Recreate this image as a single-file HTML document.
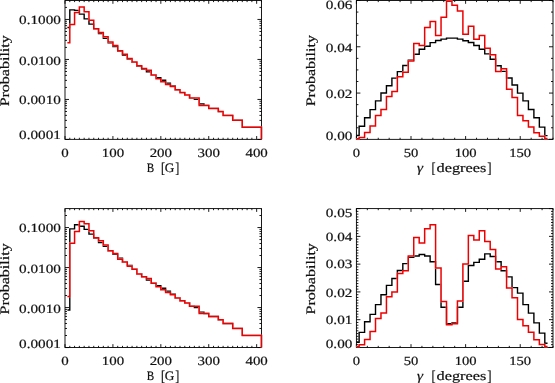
<!DOCTYPE html>
<html><head><meta charset="utf-8"><style>
html,body{margin:0;padding:0;background:#fff;}
svg{display:block;will-change:transform;}
text{font-family:"Liberation Serif",serif;text-rendering:geometricPrecision;}
</style></head><body>
<svg width="555" height="383" viewBox="0 0 555 383">
<rect width="555" height="383" fill="#fff"/>
<mask id="mAx" maskUnits="userSpaceOnUse" x="0" y="0" width="555" height="383"><rect width="555" height="383" fill="#fff"/><path d="M67.40,42.80 L69.79,42.80 L69.79,24.40 L74.58,24.40 L74.58,12.50 L79.37,12.50 L79.37,7.10 L84.17,7.10 L84.17,11.70 L88.96,11.70 L88.96,20.30 L93.75,20.30 L93.75,28.80 L98.54,28.80 L98.54,32.50 L103.33,32.50 L103.33,36.80 L108.12,36.80 L108.12,42.10 L112.91,42.10 L112.91,45.60 L117.71,45.60 L117.71,50.70 L122.50,50.70 L122.50,54.30 L127.29,54.30 L127.29,58.50 L132.08,58.50 L132.08,61.90 L136.87,61.90 L136.87,65.80 L141.66,65.80 L141.66,68.60 L146.45,68.60 L146.45,70.30 L151.25,70.30 L151.25,75.10 L156.04,75.10 L156.04,78.70 L160.83,78.70 L160.83,81.70 L165.62,81.70 L165.62,84.50 L170.41,84.50 L170.41,86.60 L175.20,86.60 L175.20,89.80 L180.00,89.80 L180.00,92.60 L184.79,92.60 L184.79,94.90 L189.58,94.90 L189.58,98.10 L194.37,98.10 L194.37,98.10 L199.16,98.10 L199.16,105.40 L203.95,105.40 L203.95,105.40 L208.74,105.40 L208.74,108.40 L213.54,108.40 L213.54,108.40 L218.33,108.40 L218.33,111.60 L223.12,111.60 L223.12,115.40 L227.91,115.40 L227.91,115.40 L232.70,115.40 L232.70,120.30 L237.49,120.30 L237.49,120.30 L242.28,120.30 L242.28,127.30 L247.08,127.30 L247.08,127.30 L251.87,127.30 L251.87,127.30 L256.66,127.30 L256.66,127.30 L261.45,127.30 L261.45,139.35" fill="none" stroke="#000" stroke-width="1.5"/><path d="M67.40,296.40 L69.79,296.40 L69.79,243.30 L74.58,243.30 L74.58,231.50 L79.37,231.50 L79.37,221.60 L84.17,221.60 L84.17,223.70 L88.96,223.70 L88.96,230.80 L93.75,230.80 L93.75,237.80 L98.54,237.80 L98.54,240.80 L103.33,240.80 L103.33,244.90 L108.12,244.90 L108.12,250.70 L112.91,250.70 L112.91,253.50 L117.71,253.50 L117.71,259.20 L122.50,259.20 L122.50,261.90 L127.29,261.90 L127.29,266.30 L132.08,266.30 L132.08,269.20 L136.87,269.20 L136.87,273.90 L141.66,273.90 L141.66,276.70 L146.45,276.70 L146.45,278.40 L151.25,278.40 L151.25,283.20 L156.04,283.20 L156.04,286.80 L160.83,286.80 L160.83,289.80 L165.62,289.80 L165.62,292.60 L170.41,292.60 L170.41,294.70 L175.20,294.70 L175.20,297.90 L180.00,297.90 L180.00,300.70 L184.79,300.70 L184.79,303.00 L189.58,303.00 L189.58,306.20 L194.37,306.20 L194.37,306.20 L199.16,306.20 L199.16,313.50 L203.95,313.50 L203.95,313.50 L208.74,313.50 L208.74,316.50 L213.54,316.50 L213.54,316.50 L218.33,316.50 L218.33,319.70 L223.12,319.70 L223.12,323.50 L227.91,323.50 L227.91,323.50 L232.70,323.50 L232.70,328.40 L237.49,328.40 L237.49,328.40 L242.28,328.40 L242.28,335.40 L247.08,335.40 L247.08,335.40 L251.87,335.40 L251.87,335.40 L256.66,335.40 L256.66,335.40 L261.45,335.40 L261.45,347.45" fill="none" stroke="#000" stroke-width="1.5"/><path d="M356.40,138.80 L359.13,138.80 L359.13,137.50 L364.59,137.50 L364.59,132.60 L370.05,132.60 L370.05,126.00 L375.51,126.00 L375.51,115.50 L380.97,115.50 L380.97,109.50 L386.44,109.50 L386.44,96.50 L391.90,96.50 L391.90,91.50 L397.36,91.50 L397.36,76.80 L402.82,76.80 L402.82,72.30 L408.28,72.30 L408.28,61.10 L413.74,61.10 L413.74,43.40 L419.20,43.40 L419.20,45.50 L424.66,45.50 L424.66,27.40 L430.12,27.40 L430.12,21.60 L435.59,21.60 L435.59,35.50 L441.05,35.50 L441.05,17.20 L446.51,17.20 L446.51,1.30 L451.97,1.30 L451.97,5.20 L457.43,5.20 L457.43,11.00 L462.89,11.00 L462.89,34.20 L468.35,34.20 L468.35,26.20 L473.81,26.20 L473.81,39.30 L479.27,39.30 L479.27,35.50 L484.74,35.50 L484.74,48.20 L490.20,48.20 L490.20,54.80 L495.66,54.80 L495.66,71.40 L501.12,71.40 L501.12,68.80 L506.58,68.80 L506.58,89.30 L512.04,89.30 L512.04,97.50 L517.50,97.50 L517.50,115.60 L522.96,115.60 L522.96,120.80 L528.42,120.80 L528.42,127.10 L533.89,127.10 L533.89,132.80 L539.35,132.80 L539.35,136.30 L544.81,136.30 L544.81,138.50 L547.54,138.50" fill="none" stroke="#000" stroke-width="1.5"/><path d="M356.40,346.50 L359.13,346.50 L359.13,344.80 L364.59,344.80 L364.59,339.40 L370.05,339.40 L370.05,331.60 L375.51,331.60 L375.51,318.50 L380.97,318.50 L380.97,312.90 L386.44,312.90 L386.44,296.80 L391.90,296.80 L391.90,292.00 L397.36,292.00 L397.36,273.50 L402.82,273.50 L402.82,270.80 L408.28,270.80 L408.28,256.00 L413.74,256.00 L413.74,237.40 L419.20,237.40 L419.20,242.90 L424.66,242.90 L424.66,228.80 L430.12,228.80 L430.12,224.70 L435.59,224.70 L435.59,268.00 L441.05,268.00 L441.05,301.60 L446.51,301.60 L446.51,324.80 L451.97,324.80 L451.97,323.70 L457.43,323.70 L457.43,301.00 L462.89,301.00 L462.89,263.90 L468.35,263.90 L468.35,235.40 L473.81,235.40 L473.81,240.10 L479.27,240.10 L479.27,230.70 L484.74,230.70 L484.74,241.60 L490.20,241.60 L490.20,249.50 L495.66,249.50 L495.66,268.90 L501.12,268.90 L501.12,266.80 L506.58,266.80 L506.58,287.90 L512.04,287.90 L512.04,297.70 L517.50,297.70 L517.50,319.50 L522.96,319.50 L522.96,325.70 L528.42,325.70 L528.42,332.30 L533.89,332.30 L533.89,339.80 L539.35,339.80 L539.35,344.50 L544.81,344.50 L544.81,346.40 L547.54,346.40" fill="none" stroke="#000" stroke-width="1.5"/></mask>
<g mask="url(#mAx)">
<line x1="65.00" y1="139.35" x2="65.00" y2="136.05" stroke="#000" stroke-width="0.9"/>
<line x1="65.00" y1="0.50" x2="65.00" y2="3.80" stroke="#000" stroke-width="0.9"/>
<line x1="69.79" y1="139.35" x2="69.79" y2="137.75" stroke="#000" stroke-width="0.9"/>
<line x1="69.79" y1="0.50" x2="69.79" y2="2.10" stroke="#000" stroke-width="0.9"/>
<line x1="74.58" y1="139.35" x2="74.58" y2="137.75" stroke="#000" stroke-width="0.9"/>
<line x1="74.58" y1="0.50" x2="74.58" y2="2.10" stroke="#000" stroke-width="0.9"/>
<line x1="79.37" y1="139.35" x2="79.37" y2="137.75" stroke="#000" stroke-width="0.9"/>
<line x1="79.37" y1="0.50" x2="79.37" y2="2.10" stroke="#000" stroke-width="0.9"/>
<line x1="84.17" y1="139.35" x2="84.17" y2="137.75" stroke="#000" stroke-width="0.9"/>
<line x1="84.17" y1="0.50" x2="84.17" y2="2.10" stroke="#000" stroke-width="0.9"/>
<line x1="88.96" y1="139.35" x2="88.96" y2="137.75" stroke="#000" stroke-width="0.9"/>
<line x1="88.96" y1="0.50" x2="88.96" y2="2.10" stroke="#000" stroke-width="0.9"/>
<line x1="93.75" y1="139.35" x2="93.75" y2="137.75" stroke="#000" stroke-width="0.9"/>
<line x1="93.75" y1="0.50" x2="93.75" y2="2.10" stroke="#000" stroke-width="0.9"/>
<line x1="98.54" y1="139.35" x2="98.54" y2="137.75" stroke="#000" stroke-width="0.9"/>
<line x1="98.54" y1="0.50" x2="98.54" y2="2.10" stroke="#000" stroke-width="0.9"/>
<line x1="103.33" y1="139.35" x2="103.33" y2="137.75" stroke="#000" stroke-width="0.9"/>
<line x1="103.33" y1="0.50" x2="103.33" y2="2.10" stroke="#000" stroke-width="0.9"/>
<line x1="108.12" y1="139.35" x2="108.12" y2="137.75" stroke="#000" stroke-width="0.9"/>
<line x1="108.12" y1="0.50" x2="108.12" y2="2.10" stroke="#000" stroke-width="0.9"/>
<line x1="112.91" y1="139.35" x2="112.91" y2="136.05" stroke="#000" stroke-width="0.9"/>
<line x1="112.91" y1="0.50" x2="112.91" y2="3.80" stroke="#000" stroke-width="0.9"/>
<line x1="117.71" y1="139.35" x2="117.71" y2="137.75" stroke="#000" stroke-width="0.9"/>
<line x1="117.71" y1="0.50" x2="117.71" y2="2.10" stroke="#000" stroke-width="0.9"/>
<line x1="122.50" y1="139.35" x2="122.50" y2="137.75" stroke="#000" stroke-width="0.9"/>
<line x1="122.50" y1="0.50" x2="122.50" y2="2.10" stroke="#000" stroke-width="0.9"/>
<line x1="127.29" y1="139.35" x2="127.29" y2="137.75" stroke="#000" stroke-width="0.9"/>
<line x1="127.29" y1="0.50" x2="127.29" y2="2.10" stroke="#000" stroke-width="0.9"/>
<line x1="132.08" y1="139.35" x2="132.08" y2="137.75" stroke="#000" stroke-width="0.9"/>
<line x1="132.08" y1="0.50" x2="132.08" y2="2.10" stroke="#000" stroke-width="0.9"/>
<line x1="136.87" y1="139.35" x2="136.87" y2="137.75" stroke="#000" stroke-width="0.9"/>
<line x1="136.87" y1="0.50" x2="136.87" y2="2.10" stroke="#000" stroke-width="0.9"/>
<line x1="141.66" y1="139.35" x2="141.66" y2="137.75" stroke="#000" stroke-width="0.9"/>
<line x1="141.66" y1="0.50" x2="141.66" y2="2.10" stroke="#000" stroke-width="0.9"/>
<line x1="146.45" y1="139.35" x2="146.45" y2="137.75" stroke="#000" stroke-width="0.9"/>
<line x1="146.45" y1="0.50" x2="146.45" y2="2.10" stroke="#000" stroke-width="0.9"/>
<line x1="151.25" y1="139.35" x2="151.25" y2="137.75" stroke="#000" stroke-width="0.9"/>
<line x1="151.25" y1="0.50" x2="151.25" y2="2.10" stroke="#000" stroke-width="0.9"/>
<line x1="156.04" y1="139.35" x2="156.04" y2="137.75" stroke="#000" stroke-width="0.9"/>
<line x1="156.04" y1="0.50" x2="156.04" y2="2.10" stroke="#000" stroke-width="0.9"/>
<line x1="160.83" y1="139.35" x2="160.83" y2="136.05" stroke="#000" stroke-width="0.9"/>
<line x1="160.83" y1="0.50" x2="160.83" y2="3.80" stroke="#000" stroke-width="0.9"/>
<line x1="165.62" y1="139.35" x2="165.62" y2="137.75" stroke="#000" stroke-width="0.9"/>
<line x1="165.62" y1="0.50" x2="165.62" y2="2.10" stroke="#000" stroke-width="0.9"/>
<line x1="170.41" y1="139.35" x2="170.41" y2="137.75" stroke="#000" stroke-width="0.9"/>
<line x1="170.41" y1="0.50" x2="170.41" y2="2.10" stroke="#000" stroke-width="0.9"/>
<line x1="175.20" y1="139.35" x2="175.20" y2="137.75" stroke="#000" stroke-width="0.9"/>
<line x1="175.20" y1="0.50" x2="175.20" y2="2.10" stroke="#000" stroke-width="0.9"/>
<line x1="180.00" y1="139.35" x2="180.00" y2="137.75" stroke="#000" stroke-width="0.9"/>
<line x1="180.00" y1="0.50" x2="180.00" y2="2.10" stroke="#000" stroke-width="0.9"/>
<line x1="184.79" y1="139.35" x2="184.79" y2="137.75" stroke="#000" stroke-width="0.9"/>
<line x1="184.79" y1="0.50" x2="184.79" y2="2.10" stroke="#000" stroke-width="0.9"/>
<line x1="189.58" y1="139.35" x2="189.58" y2="137.75" stroke="#000" stroke-width="0.9"/>
<line x1="189.58" y1="0.50" x2="189.58" y2="2.10" stroke="#000" stroke-width="0.9"/>
<line x1="194.37" y1="139.35" x2="194.37" y2="137.75" stroke="#000" stroke-width="0.9"/>
<line x1="194.37" y1="0.50" x2="194.37" y2="2.10" stroke="#000" stroke-width="0.9"/>
<line x1="199.16" y1="139.35" x2="199.16" y2="137.75" stroke="#000" stroke-width="0.9"/>
<line x1="199.16" y1="0.50" x2="199.16" y2="2.10" stroke="#000" stroke-width="0.9"/>
<line x1="203.95" y1="139.35" x2="203.95" y2="137.75" stroke="#000" stroke-width="0.9"/>
<line x1="203.95" y1="0.50" x2="203.95" y2="2.10" stroke="#000" stroke-width="0.9"/>
<line x1="208.74" y1="139.35" x2="208.74" y2="136.05" stroke="#000" stroke-width="0.9"/>
<line x1="208.74" y1="0.50" x2="208.74" y2="3.80" stroke="#000" stroke-width="0.9"/>
<line x1="213.54" y1="139.35" x2="213.54" y2="137.75" stroke="#000" stroke-width="0.9"/>
<line x1="213.54" y1="0.50" x2="213.54" y2="2.10" stroke="#000" stroke-width="0.9"/>
<line x1="218.33" y1="139.35" x2="218.33" y2="137.75" stroke="#000" stroke-width="0.9"/>
<line x1="218.33" y1="0.50" x2="218.33" y2="2.10" stroke="#000" stroke-width="0.9"/>
<line x1="223.12" y1="139.35" x2="223.12" y2="137.75" stroke="#000" stroke-width="0.9"/>
<line x1="223.12" y1="0.50" x2="223.12" y2="2.10" stroke="#000" stroke-width="0.9"/>
<line x1="227.91" y1="139.35" x2="227.91" y2="137.75" stroke="#000" stroke-width="0.9"/>
<line x1="227.91" y1="0.50" x2="227.91" y2="2.10" stroke="#000" stroke-width="0.9"/>
<line x1="232.70" y1="139.35" x2="232.70" y2="137.75" stroke="#000" stroke-width="0.9"/>
<line x1="232.70" y1="0.50" x2="232.70" y2="2.10" stroke="#000" stroke-width="0.9"/>
<line x1="237.49" y1="139.35" x2="237.49" y2="137.75" stroke="#000" stroke-width="0.9"/>
<line x1="237.49" y1="0.50" x2="237.49" y2="2.10" stroke="#000" stroke-width="0.9"/>
<line x1="242.28" y1="139.35" x2="242.28" y2="137.75" stroke="#000" stroke-width="0.9"/>
<line x1="242.28" y1="0.50" x2="242.28" y2="2.10" stroke="#000" stroke-width="0.9"/>
<line x1="247.08" y1="139.35" x2="247.08" y2="137.75" stroke="#000" stroke-width="0.9"/>
<line x1="247.08" y1="0.50" x2="247.08" y2="2.10" stroke="#000" stroke-width="0.9"/>
<line x1="251.87" y1="139.35" x2="251.87" y2="137.75" stroke="#000" stroke-width="0.9"/>
<line x1="251.87" y1="0.50" x2="251.87" y2="2.10" stroke="#000" stroke-width="0.9"/>
<line x1="256.66" y1="139.35" x2="256.66" y2="136.05" stroke="#000" stroke-width="0.9"/>
<line x1="256.66" y1="0.50" x2="256.66" y2="3.80" stroke="#000" stroke-width="0.9"/>
<line x1="261.45" y1="139.35" x2="261.45" y2="137.75" stroke="#000" stroke-width="0.9"/>
<line x1="261.45" y1="0.50" x2="261.45" y2="2.10" stroke="#000" stroke-width="0.9"/>
<line x1="65.00" y1="139.45" x2="69.00" y2="139.45" stroke="#000" stroke-width="0.9"/>
<line x1="261.45" y1="139.45" x2="257.45" y2="139.45" stroke="#000" stroke-width="0.9"/>
<line x1="65.00" y1="127.41" x2="67.00" y2="127.41" stroke="#000" stroke-width="0.9"/>
<line x1="261.45" y1="127.41" x2="259.45" y2="127.41" stroke="#000" stroke-width="0.9"/>
<line x1="65.00" y1="120.37" x2="67.00" y2="120.37" stroke="#000" stroke-width="0.9"/>
<line x1="261.45" y1="120.37" x2="259.45" y2="120.37" stroke="#000" stroke-width="0.9"/>
<line x1="65.00" y1="115.37" x2="67.00" y2="115.37" stroke="#000" stroke-width="0.9"/>
<line x1="261.45" y1="115.37" x2="259.45" y2="115.37" stroke="#000" stroke-width="0.9"/>
<line x1="65.00" y1="111.49" x2="67.00" y2="111.49" stroke="#000" stroke-width="0.9"/>
<line x1="261.45" y1="111.49" x2="259.45" y2="111.49" stroke="#000" stroke-width="0.9"/>
<line x1="65.00" y1="108.32" x2="67.00" y2="108.32" stroke="#000" stroke-width="0.9"/>
<line x1="261.45" y1="108.32" x2="259.45" y2="108.32" stroke="#000" stroke-width="0.9"/>
<line x1="65.00" y1="105.65" x2="67.00" y2="105.65" stroke="#000" stroke-width="0.9"/>
<line x1="261.45" y1="105.65" x2="259.45" y2="105.65" stroke="#000" stroke-width="0.9"/>
<line x1="65.00" y1="103.33" x2="67.00" y2="103.33" stroke="#000" stroke-width="0.9"/>
<line x1="261.45" y1="103.33" x2="259.45" y2="103.33" stroke="#000" stroke-width="0.9"/>
<line x1="65.00" y1="101.28" x2="67.00" y2="101.28" stroke="#000" stroke-width="0.9"/>
<line x1="261.45" y1="101.28" x2="259.45" y2="101.28" stroke="#000" stroke-width="0.9"/>
<line x1="65.00" y1="99.45" x2="69.00" y2="99.45" stroke="#000" stroke-width="0.9"/>
<line x1="261.45" y1="99.45" x2="257.45" y2="99.45" stroke="#000" stroke-width="0.9"/>
<line x1="65.00" y1="87.41" x2="67.00" y2="87.41" stroke="#000" stroke-width="0.9"/>
<line x1="261.45" y1="87.41" x2="259.45" y2="87.41" stroke="#000" stroke-width="0.9"/>
<line x1="65.00" y1="80.37" x2="67.00" y2="80.37" stroke="#000" stroke-width="0.9"/>
<line x1="261.45" y1="80.37" x2="259.45" y2="80.37" stroke="#000" stroke-width="0.9"/>
<line x1="65.00" y1="75.37" x2="67.00" y2="75.37" stroke="#000" stroke-width="0.9"/>
<line x1="261.45" y1="75.37" x2="259.45" y2="75.37" stroke="#000" stroke-width="0.9"/>
<line x1="65.00" y1="71.49" x2="67.00" y2="71.49" stroke="#000" stroke-width="0.9"/>
<line x1="261.45" y1="71.49" x2="259.45" y2="71.49" stroke="#000" stroke-width="0.9"/>
<line x1="65.00" y1="68.32" x2="67.00" y2="68.32" stroke="#000" stroke-width="0.9"/>
<line x1="261.45" y1="68.32" x2="259.45" y2="68.32" stroke="#000" stroke-width="0.9"/>
<line x1="65.00" y1="65.65" x2="67.00" y2="65.65" stroke="#000" stroke-width="0.9"/>
<line x1="261.45" y1="65.65" x2="259.45" y2="65.65" stroke="#000" stroke-width="0.9"/>
<line x1="65.00" y1="63.33" x2="67.00" y2="63.33" stroke="#000" stroke-width="0.9"/>
<line x1="261.45" y1="63.33" x2="259.45" y2="63.33" stroke="#000" stroke-width="0.9"/>
<line x1="65.00" y1="61.28" x2="67.00" y2="61.28" stroke="#000" stroke-width="0.9"/>
<line x1="261.45" y1="61.28" x2="259.45" y2="61.28" stroke="#000" stroke-width="0.9"/>
<line x1="65.00" y1="59.45" x2="69.00" y2="59.45" stroke="#000" stroke-width="0.9"/>
<line x1="261.45" y1="59.45" x2="257.45" y2="59.45" stroke="#000" stroke-width="0.9"/>
<line x1="65.00" y1="47.41" x2="67.00" y2="47.41" stroke="#000" stroke-width="0.9"/>
<line x1="261.45" y1="47.41" x2="259.45" y2="47.41" stroke="#000" stroke-width="0.9"/>
<line x1="65.00" y1="40.37" x2="67.00" y2="40.37" stroke="#000" stroke-width="0.9"/>
<line x1="261.45" y1="40.37" x2="259.45" y2="40.37" stroke="#000" stroke-width="0.9"/>
<line x1="65.00" y1="35.37" x2="67.00" y2="35.37" stroke="#000" stroke-width="0.9"/>
<line x1="261.45" y1="35.37" x2="259.45" y2="35.37" stroke="#000" stroke-width="0.9"/>
<line x1="65.00" y1="31.49" x2="67.00" y2="31.49" stroke="#000" stroke-width="0.9"/>
<line x1="261.45" y1="31.49" x2="259.45" y2="31.49" stroke="#000" stroke-width="0.9"/>
<line x1="65.00" y1="28.32" x2="67.00" y2="28.32" stroke="#000" stroke-width="0.9"/>
<line x1="261.45" y1="28.32" x2="259.45" y2="28.32" stroke="#000" stroke-width="0.9"/>
<line x1="65.00" y1="25.65" x2="67.00" y2="25.65" stroke="#000" stroke-width="0.9"/>
<line x1="261.45" y1="25.65" x2="259.45" y2="25.65" stroke="#000" stroke-width="0.9"/>
<line x1="65.00" y1="23.33" x2="67.00" y2="23.33" stroke="#000" stroke-width="0.9"/>
<line x1="261.45" y1="23.33" x2="259.45" y2="23.33" stroke="#000" stroke-width="0.9"/>
<line x1="65.00" y1="21.28" x2="67.00" y2="21.28" stroke="#000" stroke-width="0.9"/>
<line x1="261.45" y1="21.28" x2="259.45" y2="21.28" stroke="#000" stroke-width="0.9"/>
<line x1="65.00" y1="19.45" x2="69.00" y2="19.45" stroke="#000" stroke-width="0.9"/>
<line x1="261.45" y1="19.45" x2="257.45" y2="19.45" stroke="#000" stroke-width="0.9"/>
<line x1="65.00" y1="7.41" x2="67.00" y2="7.41" stroke="#000" stroke-width="0.9"/>
<line x1="261.45" y1="7.41" x2="259.45" y2="7.41" stroke="#000" stroke-width="0.9"/>
<rect x="65.00" y="0.50" width="196.45" height="138.85" fill="none" stroke="#000" stroke-width="0.9"/>
<line x1="356.40" y1="139.35" x2="356.40" y2="136.05" stroke="#000" stroke-width="0.9"/>
<line x1="356.40" y1="0.50" x2="356.40" y2="3.80" stroke="#000" stroke-width="0.9"/>
<line x1="367.32" y1="139.35" x2="367.32" y2="137.75" stroke="#000" stroke-width="0.9"/>
<line x1="367.32" y1="0.50" x2="367.32" y2="2.10" stroke="#000" stroke-width="0.9"/>
<line x1="378.24" y1="139.35" x2="378.24" y2="137.75" stroke="#000" stroke-width="0.9"/>
<line x1="378.24" y1="0.50" x2="378.24" y2="2.10" stroke="#000" stroke-width="0.9"/>
<line x1="389.17" y1="139.35" x2="389.17" y2="137.75" stroke="#000" stroke-width="0.9"/>
<line x1="389.17" y1="0.50" x2="389.17" y2="2.10" stroke="#000" stroke-width="0.9"/>
<line x1="400.09" y1="139.35" x2="400.09" y2="137.75" stroke="#000" stroke-width="0.9"/>
<line x1="400.09" y1="0.50" x2="400.09" y2="2.10" stroke="#000" stroke-width="0.9"/>
<line x1="411.01" y1="139.35" x2="411.01" y2="136.05" stroke="#000" stroke-width="0.9"/>
<line x1="411.01" y1="0.50" x2="411.01" y2="3.80" stroke="#000" stroke-width="0.9"/>
<line x1="421.93" y1="139.35" x2="421.93" y2="137.75" stroke="#000" stroke-width="0.9"/>
<line x1="421.93" y1="0.50" x2="421.93" y2="2.10" stroke="#000" stroke-width="0.9"/>
<line x1="432.86" y1="139.35" x2="432.86" y2="137.75" stroke="#000" stroke-width="0.9"/>
<line x1="432.86" y1="0.50" x2="432.86" y2="2.10" stroke="#000" stroke-width="0.9"/>
<line x1="443.78" y1="139.35" x2="443.78" y2="137.75" stroke="#000" stroke-width="0.9"/>
<line x1="443.78" y1="0.50" x2="443.78" y2="2.10" stroke="#000" stroke-width="0.9"/>
<line x1="454.70" y1="139.35" x2="454.70" y2="137.75" stroke="#000" stroke-width="0.9"/>
<line x1="454.70" y1="0.50" x2="454.70" y2="2.10" stroke="#000" stroke-width="0.9"/>
<line x1="465.62" y1="139.35" x2="465.62" y2="136.05" stroke="#000" stroke-width="0.9"/>
<line x1="465.62" y1="0.50" x2="465.62" y2="3.80" stroke="#000" stroke-width="0.9"/>
<line x1="476.54" y1="139.35" x2="476.54" y2="137.75" stroke="#000" stroke-width="0.9"/>
<line x1="476.54" y1="0.50" x2="476.54" y2="2.10" stroke="#000" stroke-width="0.9"/>
<line x1="487.47" y1="139.35" x2="487.47" y2="137.75" stroke="#000" stroke-width="0.9"/>
<line x1="487.47" y1="0.50" x2="487.47" y2="2.10" stroke="#000" stroke-width="0.9"/>
<line x1="498.39" y1="139.35" x2="498.39" y2="137.75" stroke="#000" stroke-width="0.9"/>
<line x1="498.39" y1="0.50" x2="498.39" y2="2.10" stroke="#000" stroke-width="0.9"/>
<line x1="509.31" y1="139.35" x2="509.31" y2="137.75" stroke="#000" stroke-width="0.9"/>
<line x1="509.31" y1="0.50" x2="509.31" y2="2.10" stroke="#000" stroke-width="0.9"/>
<line x1="520.23" y1="139.35" x2="520.23" y2="136.05" stroke="#000" stroke-width="0.9"/>
<line x1="520.23" y1="0.50" x2="520.23" y2="3.80" stroke="#000" stroke-width="0.9"/>
<line x1="531.16" y1="139.35" x2="531.16" y2="137.75" stroke="#000" stroke-width="0.9"/>
<line x1="531.16" y1="0.50" x2="531.16" y2="2.10" stroke="#000" stroke-width="0.9"/>
<line x1="542.08" y1="139.35" x2="542.08" y2="137.75" stroke="#000" stroke-width="0.9"/>
<line x1="542.08" y1="0.50" x2="542.08" y2="2.10" stroke="#000" stroke-width="0.9"/>
<line x1="553.00" y1="139.35" x2="553.00" y2="137.75" stroke="#000" stroke-width="0.9"/>
<line x1="553.00" y1="0.50" x2="553.00" y2="2.10" stroke="#000" stroke-width="0.9"/>
<line x1="356.40" y1="139.35" x2="360.40" y2="139.35" stroke="#000" stroke-width="0.9"/>
<line x1="553.00" y1="139.35" x2="549.00" y2="139.35" stroke="#000" stroke-width="0.9"/>
<line x1="356.40" y1="127.78" x2="358.40" y2="127.78" stroke="#000" stroke-width="0.9"/>
<line x1="553.00" y1="127.78" x2="551.00" y2="127.78" stroke="#000" stroke-width="0.9"/>
<line x1="356.40" y1="116.21" x2="358.40" y2="116.21" stroke="#000" stroke-width="0.9"/>
<line x1="553.00" y1="116.21" x2="551.00" y2="116.21" stroke="#000" stroke-width="0.9"/>
<line x1="356.40" y1="104.64" x2="358.40" y2="104.64" stroke="#000" stroke-width="0.9"/>
<line x1="553.00" y1="104.64" x2="551.00" y2="104.64" stroke="#000" stroke-width="0.9"/>
<line x1="356.40" y1="93.07" x2="360.40" y2="93.07" stroke="#000" stroke-width="0.9"/>
<line x1="553.00" y1="93.07" x2="549.00" y2="93.07" stroke="#000" stroke-width="0.9"/>
<line x1="356.40" y1="81.50" x2="358.40" y2="81.50" stroke="#000" stroke-width="0.9"/>
<line x1="553.00" y1="81.50" x2="551.00" y2="81.50" stroke="#000" stroke-width="0.9"/>
<line x1="356.40" y1="69.92" x2="358.40" y2="69.92" stroke="#000" stroke-width="0.9"/>
<line x1="553.00" y1="69.92" x2="551.00" y2="69.92" stroke="#000" stroke-width="0.9"/>
<line x1="356.40" y1="58.35" x2="358.40" y2="58.35" stroke="#000" stroke-width="0.9"/>
<line x1="553.00" y1="58.35" x2="551.00" y2="58.35" stroke="#000" stroke-width="0.9"/>
<line x1="356.40" y1="46.78" x2="360.40" y2="46.78" stroke="#000" stroke-width="0.9"/>
<line x1="553.00" y1="46.78" x2="549.00" y2="46.78" stroke="#000" stroke-width="0.9"/>
<line x1="356.40" y1="35.21" x2="358.40" y2="35.21" stroke="#000" stroke-width="0.9"/>
<line x1="553.00" y1="35.21" x2="551.00" y2="35.21" stroke="#000" stroke-width="0.9"/>
<line x1="356.40" y1="23.64" x2="358.40" y2="23.64" stroke="#000" stroke-width="0.9"/>
<line x1="553.00" y1="23.64" x2="551.00" y2="23.64" stroke="#000" stroke-width="0.9"/>
<line x1="356.40" y1="12.07" x2="358.40" y2="12.07" stroke="#000" stroke-width="0.9"/>
<line x1="553.00" y1="12.07" x2="551.00" y2="12.07" stroke="#000" stroke-width="0.9"/>
<line x1="356.40" y1="0.50" x2="360.40" y2="0.50" stroke="#000" stroke-width="0.9"/>
<line x1="553.00" y1="0.50" x2="549.00" y2="0.50" stroke="#000" stroke-width="0.9"/>
<rect x="356.40" y="0.50" width="196.60" height="138.85" fill="none" stroke="#000" stroke-width="0.9"/>
<line x1="65.00" y1="347.45" x2="65.00" y2="344.15" stroke="#000" stroke-width="0.9"/>
<line x1="65.00" y1="208.60" x2="65.00" y2="211.90" stroke="#000" stroke-width="0.9"/>
<line x1="69.79" y1="347.45" x2="69.79" y2="345.85" stroke="#000" stroke-width="0.9"/>
<line x1="69.79" y1="208.60" x2="69.79" y2="210.20" stroke="#000" stroke-width="0.9"/>
<line x1="74.58" y1="347.45" x2="74.58" y2="345.85" stroke="#000" stroke-width="0.9"/>
<line x1="74.58" y1="208.60" x2="74.58" y2="210.20" stroke="#000" stroke-width="0.9"/>
<line x1="79.37" y1="347.45" x2="79.37" y2="345.85" stroke="#000" stroke-width="0.9"/>
<line x1="79.37" y1="208.60" x2="79.37" y2="210.20" stroke="#000" stroke-width="0.9"/>
<line x1="84.17" y1="347.45" x2="84.17" y2="345.85" stroke="#000" stroke-width="0.9"/>
<line x1="84.17" y1="208.60" x2="84.17" y2="210.20" stroke="#000" stroke-width="0.9"/>
<line x1="88.96" y1="347.45" x2="88.96" y2="345.85" stroke="#000" stroke-width="0.9"/>
<line x1="88.96" y1="208.60" x2="88.96" y2="210.20" stroke="#000" stroke-width="0.9"/>
<line x1="93.75" y1="347.45" x2="93.75" y2="345.85" stroke="#000" stroke-width="0.9"/>
<line x1="93.75" y1="208.60" x2="93.75" y2="210.20" stroke="#000" stroke-width="0.9"/>
<line x1="98.54" y1="347.45" x2="98.54" y2="345.85" stroke="#000" stroke-width="0.9"/>
<line x1="98.54" y1="208.60" x2="98.54" y2="210.20" stroke="#000" stroke-width="0.9"/>
<line x1="103.33" y1="347.45" x2="103.33" y2="345.85" stroke="#000" stroke-width="0.9"/>
<line x1="103.33" y1="208.60" x2="103.33" y2="210.20" stroke="#000" stroke-width="0.9"/>
<line x1="108.12" y1="347.45" x2="108.12" y2="345.85" stroke="#000" stroke-width="0.9"/>
<line x1="108.12" y1="208.60" x2="108.12" y2="210.20" stroke="#000" stroke-width="0.9"/>
<line x1="112.91" y1="347.45" x2="112.91" y2="344.15" stroke="#000" stroke-width="0.9"/>
<line x1="112.91" y1="208.60" x2="112.91" y2="211.90" stroke="#000" stroke-width="0.9"/>
<line x1="117.71" y1="347.45" x2="117.71" y2="345.85" stroke="#000" stroke-width="0.9"/>
<line x1="117.71" y1="208.60" x2="117.71" y2="210.20" stroke="#000" stroke-width="0.9"/>
<line x1="122.50" y1="347.45" x2="122.50" y2="345.85" stroke="#000" stroke-width="0.9"/>
<line x1="122.50" y1="208.60" x2="122.50" y2="210.20" stroke="#000" stroke-width="0.9"/>
<line x1="127.29" y1="347.45" x2="127.29" y2="345.85" stroke="#000" stroke-width="0.9"/>
<line x1="127.29" y1="208.60" x2="127.29" y2="210.20" stroke="#000" stroke-width="0.9"/>
<line x1="132.08" y1="347.45" x2="132.08" y2="345.85" stroke="#000" stroke-width="0.9"/>
<line x1="132.08" y1="208.60" x2="132.08" y2="210.20" stroke="#000" stroke-width="0.9"/>
<line x1="136.87" y1="347.45" x2="136.87" y2="345.85" stroke="#000" stroke-width="0.9"/>
<line x1="136.87" y1="208.60" x2="136.87" y2="210.20" stroke="#000" stroke-width="0.9"/>
<line x1="141.66" y1="347.45" x2="141.66" y2="345.85" stroke="#000" stroke-width="0.9"/>
<line x1="141.66" y1="208.60" x2="141.66" y2="210.20" stroke="#000" stroke-width="0.9"/>
<line x1="146.45" y1="347.45" x2="146.45" y2="345.85" stroke="#000" stroke-width="0.9"/>
<line x1="146.45" y1="208.60" x2="146.45" y2="210.20" stroke="#000" stroke-width="0.9"/>
<line x1="151.25" y1="347.45" x2="151.25" y2="345.85" stroke="#000" stroke-width="0.9"/>
<line x1="151.25" y1="208.60" x2="151.25" y2="210.20" stroke="#000" stroke-width="0.9"/>
<line x1="156.04" y1="347.45" x2="156.04" y2="345.85" stroke="#000" stroke-width="0.9"/>
<line x1="156.04" y1="208.60" x2="156.04" y2="210.20" stroke="#000" stroke-width="0.9"/>
<line x1="160.83" y1="347.45" x2="160.83" y2="344.15" stroke="#000" stroke-width="0.9"/>
<line x1="160.83" y1="208.60" x2="160.83" y2="211.90" stroke="#000" stroke-width="0.9"/>
<line x1="165.62" y1="347.45" x2="165.62" y2="345.85" stroke="#000" stroke-width="0.9"/>
<line x1="165.62" y1="208.60" x2="165.62" y2="210.20" stroke="#000" stroke-width="0.9"/>
<line x1="170.41" y1="347.45" x2="170.41" y2="345.85" stroke="#000" stroke-width="0.9"/>
<line x1="170.41" y1="208.60" x2="170.41" y2="210.20" stroke="#000" stroke-width="0.9"/>
<line x1="175.20" y1="347.45" x2="175.20" y2="345.85" stroke="#000" stroke-width="0.9"/>
<line x1="175.20" y1="208.60" x2="175.20" y2="210.20" stroke="#000" stroke-width="0.9"/>
<line x1="180.00" y1="347.45" x2="180.00" y2="345.85" stroke="#000" stroke-width="0.9"/>
<line x1="180.00" y1="208.60" x2="180.00" y2="210.20" stroke="#000" stroke-width="0.9"/>
<line x1="184.79" y1="347.45" x2="184.79" y2="345.85" stroke="#000" stroke-width="0.9"/>
<line x1="184.79" y1="208.60" x2="184.79" y2="210.20" stroke="#000" stroke-width="0.9"/>
<line x1="189.58" y1="347.45" x2="189.58" y2="345.85" stroke="#000" stroke-width="0.9"/>
<line x1="189.58" y1="208.60" x2="189.58" y2="210.20" stroke="#000" stroke-width="0.9"/>
<line x1="194.37" y1="347.45" x2="194.37" y2="345.85" stroke="#000" stroke-width="0.9"/>
<line x1="194.37" y1="208.60" x2="194.37" y2="210.20" stroke="#000" stroke-width="0.9"/>
<line x1="199.16" y1="347.45" x2="199.16" y2="345.85" stroke="#000" stroke-width="0.9"/>
<line x1="199.16" y1="208.60" x2="199.16" y2="210.20" stroke="#000" stroke-width="0.9"/>
<line x1="203.95" y1="347.45" x2="203.95" y2="345.85" stroke="#000" stroke-width="0.9"/>
<line x1="203.95" y1="208.60" x2="203.95" y2="210.20" stroke="#000" stroke-width="0.9"/>
<line x1="208.74" y1="347.45" x2="208.74" y2="344.15" stroke="#000" stroke-width="0.9"/>
<line x1="208.74" y1="208.60" x2="208.74" y2="211.90" stroke="#000" stroke-width="0.9"/>
<line x1="213.54" y1="347.45" x2="213.54" y2="345.85" stroke="#000" stroke-width="0.9"/>
<line x1="213.54" y1="208.60" x2="213.54" y2="210.20" stroke="#000" stroke-width="0.9"/>
<line x1="218.33" y1="347.45" x2="218.33" y2="345.85" stroke="#000" stroke-width="0.9"/>
<line x1="218.33" y1="208.60" x2="218.33" y2="210.20" stroke="#000" stroke-width="0.9"/>
<line x1="223.12" y1="347.45" x2="223.12" y2="345.85" stroke="#000" stroke-width="0.9"/>
<line x1="223.12" y1="208.60" x2="223.12" y2="210.20" stroke="#000" stroke-width="0.9"/>
<line x1="227.91" y1="347.45" x2="227.91" y2="345.85" stroke="#000" stroke-width="0.9"/>
<line x1="227.91" y1="208.60" x2="227.91" y2="210.20" stroke="#000" stroke-width="0.9"/>
<line x1="232.70" y1="347.45" x2="232.70" y2="345.85" stroke="#000" stroke-width="0.9"/>
<line x1="232.70" y1="208.60" x2="232.70" y2="210.20" stroke="#000" stroke-width="0.9"/>
<line x1="237.49" y1="347.45" x2="237.49" y2="345.85" stroke="#000" stroke-width="0.9"/>
<line x1="237.49" y1="208.60" x2="237.49" y2="210.20" stroke="#000" stroke-width="0.9"/>
<line x1="242.28" y1="347.45" x2="242.28" y2="345.85" stroke="#000" stroke-width="0.9"/>
<line x1="242.28" y1="208.60" x2="242.28" y2="210.20" stroke="#000" stroke-width="0.9"/>
<line x1="247.08" y1="347.45" x2="247.08" y2="345.85" stroke="#000" stroke-width="0.9"/>
<line x1="247.08" y1="208.60" x2="247.08" y2="210.20" stroke="#000" stroke-width="0.9"/>
<line x1="251.87" y1="347.45" x2="251.87" y2="345.85" stroke="#000" stroke-width="0.9"/>
<line x1="251.87" y1="208.60" x2="251.87" y2="210.20" stroke="#000" stroke-width="0.9"/>
<line x1="256.66" y1="347.45" x2="256.66" y2="344.15" stroke="#000" stroke-width="0.9"/>
<line x1="256.66" y1="208.60" x2="256.66" y2="211.90" stroke="#000" stroke-width="0.9"/>
<line x1="261.45" y1="347.45" x2="261.45" y2="345.85" stroke="#000" stroke-width="0.9"/>
<line x1="261.45" y1="208.60" x2="261.45" y2="210.20" stroke="#000" stroke-width="0.9"/>
<line x1="65.00" y1="347.55" x2="69.00" y2="347.55" stroke="#000" stroke-width="0.9"/>
<line x1="261.45" y1="347.55" x2="257.45" y2="347.55" stroke="#000" stroke-width="0.9"/>
<line x1="65.00" y1="335.51" x2="67.00" y2="335.51" stroke="#000" stroke-width="0.9"/>
<line x1="261.45" y1="335.51" x2="259.45" y2="335.51" stroke="#000" stroke-width="0.9"/>
<line x1="65.00" y1="328.47" x2="67.00" y2="328.47" stroke="#000" stroke-width="0.9"/>
<line x1="261.45" y1="328.47" x2="259.45" y2="328.47" stroke="#000" stroke-width="0.9"/>
<line x1="65.00" y1="323.47" x2="67.00" y2="323.47" stroke="#000" stroke-width="0.9"/>
<line x1="261.45" y1="323.47" x2="259.45" y2="323.47" stroke="#000" stroke-width="0.9"/>
<line x1="65.00" y1="319.59" x2="67.00" y2="319.59" stroke="#000" stroke-width="0.9"/>
<line x1="261.45" y1="319.59" x2="259.45" y2="319.59" stroke="#000" stroke-width="0.9"/>
<line x1="65.00" y1="316.42" x2="67.00" y2="316.42" stroke="#000" stroke-width="0.9"/>
<line x1="261.45" y1="316.42" x2="259.45" y2="316.42" stroke="#000" stroke-width="0.9"/>
<line x1="65.00" y1="313.75" x2="67.00" y2="313.75" stroke="#000" stroke-width="0.9"/>
<line x1="261.45" y1="313.75" x2="259.45" y2="313.75" stroke="#000" stroke-width="0.9"/>
<line x1="65.00" y1="311.43" x2="67.00" y2="311.43" stroke="#000" stroke-width="0.9"/>
<line x1="261.45" y1="311.43" x2="259.45" y2="311.43" stroke="#000" stroke-width="0.9"/>
<line x1="65.00" y1="309.38" x2="67.00" y2="309.38" stroke="#000" stroke-width="0.9"/>
<line x1="261.45" y1="309.38" x2="259.45" y2="309.38" stroke="#000" stroke-width="0.9"/>
<line x1="65.00" y1="307.55" x2="69.00" y2="307.55" stroke="#000" stroke-width="0.9"/>
<line x1="261.45" y1="307.55" x2="257.45" y2="307.55" stroke="#000" stroke-width="0.9"/>
<line x1="65.00" y1="295.51" x2="67.00" y2="295.51" stroke="#000" stroke-width="0.9"/>
<line x1="261.45" y1="295.51" x2="259.45" y2="295.51" stroke="#000" stroke-width="0.9"/>
<line x1="65.00" y1="288.47" x2="67.00" y2="288.47" stroke="#000" stroke-width="0.9"/>
<line x1="261.45" y1="288.47" x2="259.45" y2="288.47" stroke="#000" stroke-width="0.9"/>
<line x1="65.00" y1="283.47" x2="67.00" y2="283.47" stroke="#000" stroke-width="0.9"/>
<line x1="261.45" y1="283.47" x2="259.45" y2="283.47" stroke="#000" stroke-width="0.9"/>
<line x1="65.00" y1="279.59" x2="67.00" y2="279.59" stroke="#000" stroke-width="0.9"/>
<line x1="261.45" y1="279.59" x2="259.45" y2="279.59" stroke="#000" stroke-width="0.9"/>
<line x1="65.00" y1="276.42" x2="67.00" y2="276.42" stroke="#000" stroke-width="0.9"/>
<line x1="261.45" y1="276.42" x2="259.45" y2="276.42" stroke="#000" stroke-width="0.9"/>
<line x1="65.00" y1="273.75" x2="67.00" y2="273.75" stroke="#000" stroke-width="0.9"/>
<line x1="261.45" y1="273.75" x2="259.45" y2="273.75" stroke="#000" stroke-width="0.9"/>
<line x1="65.00" y1="271.43" x2="67.00" y2="271.43" stroke="#000" stroke-width="0.9"/>
<line x1="261.45" y1="271.43" x2="259.45" y2="271.43" stroke="#000" stroke-width="0.9"/>
<line x1="65.00" y1="269.38" x2="67.00" y2="269.38" stroke="#000" stroke-width="0.9"/>
<line x1="261.45" y1="269.38" x2="259.45" y2="269.38" stroke="#000" stroke-width="0.9"/>
<line x1="65.00" y1="267.55" x2="69.00" y2="267.55" stroke="#000" stroke-width="0.9"/>
<line x1="261.45" y1="267.55" x2="257.45" y2="267.55" stroke="#000" stroke-width="0.9"/>
<line x1="65.00" y1="255.51" x2="67.00" y2="255.51" stroke="#000" stroke-width="0.9"/>
<line x1="261.45" y1="255.51" x2="259.45" y2="255.51" stroke="#000" stroke-width="0.9"/>
<line x1="65.00" y1="248.47" x2="67.00" y2="248.47" stroke="#000" stroke-width="0.9"/>
<line x1="261.45" y1="248.47" x2="259.45" y2="248.47" stroke="#000" stroke-width="0.9"/>
<line x1="65.00" y1="243.47" x2="67.00" y2="243.47" stroke="#000" stroke-width="0.9"/>
<line x1="261.45" y1="243.47" x2="259.45" y2="243.47" stroke="#000" stroke-width="0.9"/>
<line x1="65.00" y1="239.59" x2="67.00" y2="239.59" stroke="#000" stroke-width="0.9"/>
<line x1="261.45" y1="239.59" x2="259.45" y2="239.59" stroke="#000" stroke-width="0.9"/>
<line x1="65.00" y1="236.42" x2="67.00" y2="236.42" stroke="#000" stroke-width="0.9"/>
<line x1="261.45" y1="236.42" x2="259.45" y2="236.42" stroke="#000" stroke-width="0.9"/>
<line x1="65.00" y1="233.75" x2="67.00" y2="233.75" stroke="#000" stroke-width="0.9"/>
<line x1="261.45" y1="233.75" x2="259.45" y2="233.75" stroke="#000" stroke-width="0.9"/>
<line x1="65.00" y1="231.43" x2="67.00" y2="231.43" stroke="#000" stroke-width="0.9"/>
<line x1="261.45" y1="231.43" x2="259.45" y2="231.43" stroke="#000" stroke-width="0.9"/>
<line x1="65.00" y1="229.38" x2="67.00" y2="229.38" stroke="#000" stroke-width="0.9"/>
<line x1="261.45" y1="229.38" x2="259.45" y2="229.38" stroke="#000" stroke-width="0.9"/>
<line x1="65.00" y1="227.55" x2="69.00" y2="227.55" stroke="#000" stroke-width="0.9"/>
<line x1="261.45" y1="227.55" x2="257.45" y2="227.55" stroke="#000" stroke-width="0.9"/>
<line x1="65.00" y1="215.51" x2="67.00" y2="215.51" stroke="#000" stroke-width="0.9"/>
<line x1="261.45" y1="215.51" x2="259.45" y2="215.51" stroke="#000" stroke-width="0.9"/>
<rect x="65.00" y="208.60" width="196.45" height="138.85" fill="none" stroke="#000" stroke-width="0.9"/>
<line x1="356.40" y1="347.45" x2="356.40" y2="344.15" stroke="#000" stroke-width="0.9"/>
<line x1="356.40" y1="208.60" x2="356.40" y2="211.90" stroke="#000" stroke-width="0.9"/>
<line x1="367.32" y1="347.45" x2="367.32" y2="345.85" stroke="#000" stroke-width="0.9"/>
<line x1="367.32" y1="208.60" x2="367.32" y2="210.20" stroke="#000" stroke-width="0.9"/>
<line x1="378.24" y1="347.45" x2="378.24" y2="345.85" stroke="#000" stroke-width="0.9"/>
<line x1="378.24" y1="208.60" x2="378.24" y2="210.20" stroke="#000" stroke-width="0.9"/>
<line x1="389.17" y1="347.45" x2="389.17" y2="345.85" stroke="#000" stroke-width="0.9"/>
<line x1="389.17" y1="208.60" x2="389.17" y2="210.20" stroke="#000" stroke-width="0.9"/>
<line x1="400.09" y1="347.45" x2="400.09" y2="345.85" stroke="#000" stroke-width="0.9"/>
<line x1="400.09" y1="208.60" x2="400.09" y2="210.20" stroke="#000" stroke-width="0.9"/>
<line x1="411.01" y1="347.45" x2="411.01" y2="344.15" stroke="#000" stroke-width="0.9"/>
<line x1="411.01" y1="208.60" x2="411.01" y2="211.90" stroke="#000" stroke-width="0.9"/>
<line x1="421.93" y1="347.45" x2="421.93" y2="345.85" stroke="#000" stroke-width="0.9"/>
<line x1="421.93" y1="208.60" x2="421.93" y2="210.20" stroke="#000" stroke-width="0.9"/>
<line x1="432.86" y1="347.45" x2="432.86" y2="345.85" stroke="#000" stroke-width="0.9"/>
<line x1="432.86" y1="208.60" x2="432.86" y2="210.20" stroke="#000" stroke-width="0.9"/>
<line x1="443.78" y1="347.45" x2="443.78" y2="345.85" stroke="#000" stroke-width="0.9"/>
<line x1="443.78" y1="208.60" x2="443.78" y2="210.20" stroke="#000" stroke-width="0.9"/>
<line x1="454.70" y1="347.45" x2="454.70" y2="345.85" stroke="#000" stroke-width="0.9"/>
<line x1="454.70" y1="208.60" x2="454.70" y2="210.20" stroke="#000" stroke-width="0.9"/>
<line x1="465.62" y1="347.45" x2="465.62" y2="344.15" stroke="#000" stroke-width="0.9"/>
<line x1="465.62" y1="208.60" x2="465.62" y2="211.90" stroke="#000" stroke-width="0.9"/>
<line x1="476.54" y1="347.45" x2="476.54" y2="345.85" stroke="#000" stroke-width="0.9"/>
<line x1="476.54" y1="208.60" x2="476.54" y2="210.20" stroke="#000" stroke-width="0.9"/>
<line x1="487.47" y1="347.45" x2="487.47" y2="345.85" stroke="#000" stroke-width="0.9"/>
<line x1="487.47" y1="208.60" x2="487.47" y2="210.20" stroke="#000" stroke-width="0.9"/>
<line x1="498.39" y1="347.45" x2="498.39" y2="345.85" stroke="#000" stroke-width="0.9"/>
<line x1="498.39" y1="208.60" x2="498.39" y2="210.20" stroke="#000" stroke-width="0.9"/>
<line x1="509.31" y1="347.45" x2="509.31" y2="345.85" stroke="#000" stroke-width="0.9"/>
<line x1="509.31" y1="208.60" x2="509.31" y2="210.20" stroke="#000" stroke-width="0.9"/>
<line x1="520.23" y1="347.45" x2="520.23" y2="344.15" stroke="#000" stroke-width="0.9"/>
<line x1="520.23" y1="208.60" x2="520.23" y2="211.90" stroke="#000" stroke-width="0.9"/>
<line x1="531.16" y1="347.45" x2="531.16" y2="345.85" stroke="#000" stroke-width="0.9"/>
<line x1="531.16" y1="208.60" x2="531.16" y2="210.20" stroke="#000" stroke-width="0.9"/>
<line x1="542.08" y1="347.45" x2="542.08" y2="345.85" stroke="#000" stroke-width="0.9"/>
<line x1="542.08" y1="208.60" x2="542.08" y2="210.20" stroke="#000" stroke-width="0.9"/>
<line x1="553.00" y1="347.45" x2="553.00" y2="345.85" stroke="#000" stroke-width="0.9"/>
<line x1="553.00" y1="208.60" x2="553.00" y2="210.20" stroke="#000" stroke-width="0.9"/>
<line x1="356.40" y1="347.45" x2="360.40" y2="347.45" stroke="#000" stroke-width="0.9"/>
<line x1="553.00" y1="347.45" x2="549.00" y2="347.45" stroke="#000" stroke-width="0.9"/>
<line x1="356.40" y1="344.67" x2="358.40" y2="344.67" stroke="#000" stroke-width="0.9"/>
<line x1="553.00" y1="344.67" x2="551.00" y2="344.67" stroke="#000" stroke-width="0.9"/>
<line x1="356.40" y1="341.90" x2="358.40" y2="341.90" stroke="#000" stroke-width="0.9"/>
<line x1="553.00" y1="341.90" x2="551.00" y2="341.90" stroke="#000" stroke-width="0.9"/>
<line x1="356.40" y1="339.12" x2="358.40" y2="339.12" stroke="#000" stroke-width="0.9"/>
<line x1="553.00" y1="339.12" x2="551.00" y2="339.12" stroke="#000" stroke-width="0.9"/>
<line x1="356.40" y1="336.34" x2="358.40" y2="336.34" stroke="#000" stroke-width="0.9"/>
<line x1="553.00" y1="336.34" x2="551.00" y2="336.34" stroke="#000" stroke-width="0.9"/>
<line x1="356.40" y1="333.56" x2="358.40" y2="333.56" stroke="#000" stroke-width="0.9"/>
<line x1="553.00" y1="333.56" x2="551.00" y2="333.56" stroke="#000" stroke-width="0.9"/>
<line x1="356.40" y1="330.79" x2="358.40" y2="330.79" stroke="#000" stroke-width="0.9"/>
<line x1="553.00" y1="330.79" x2="551.00" y2="330.79" stroke="#000" stroke-width="0.9"/>
<line x1="356.40" y1="328.01" x2="358.40" y2="328.01" stroke="#000" stroke-width="0.9"/>
<line x1="553.00" y1="328.01" x2="551.00" y2="328.01" stroke="#000" stroke-width="0.9"/>
<line x1="356.40" y1="325.23" x2="358.40" y2="325.23" stroke="#000" stroke-width="0.9"/>
<line x1="553.00" y1="325.23" x2="551.00" y2="325.23" stroke="#000" stroke-width="0.9"/>
<line x1="356.40" y1="322.46" x2="358.40" y2="322.46" stroke="#000" stroke-width="0.9"/>
<line x1="553.00" y1="322.46" x2="551.00" y2="322.46" stroke="#000" stroke-width="0.9"/>
<line x1="356.40" y1="319.68" x2="360.40" y2="319.68" stroke="#000" stroke-width="0.9"/>
<line x1="553.00" y1="319.68" x2="549.00" y2="319.68" stroke="#000" stroke-width="0.9"/>
<line x1="356.40" y1="316.90" x2="358.40" y2="316.90" stroke="#000" stroke-width="0.9"/>
<line x1="553.00" y1="316.90" x2="551.00" y2="316.90" stroke="#000" stroke-width="0.9"/>
<line x1="356.40" y1="314.13" x2="358.40" y2="314.13" stroke="#000" stroke-width="0.9"/>
<line x1="553.00" y1="314.13" x2="551.00" y2="314.13" stroke="#000" stroke-width="0.9"/>
<line x1="356.40" y1="311.35" x2="358.40" y2="311.35" stroke="#000" stroke-width="0.9"/>
<line x1="553.00" y1="311.35" x2="551.00" y2="311.35" stroke="#000" stroke-width="0.9"/>
<line x1="356.40" y1="308.57" x2="358.40" y2="308.57" stroke="#000" stroke-width="0.9"/>
<line x1="553.00" y1="308.57" x2="551.00" y2="308.57" stroke="#000" stroke-width="0.9"/>
<line x1="356.40" y1="305.80" x2="358.40" y2="305.80" stroke="#000" stroke-width="0.9"/>
<line x1="553.00" y1="305.80" x2="551.00" y2="305.80" stroke="#000" stroke-width="0.9"/>
<line x1="356.40" y1="303.02" x2="358.40" y2="303.02" stroke="#000" stroke-width="0.9"/>
<line x1="553.00" y1="303.02" x2="551.00" y2="303.02" stroke="#000" stroke-width="0.9"/>
<line x1="356.40" y1="300.24" x2="358.40" y2="300.24" stroke="#000" stroke-width="0.9"/>
<line x1="553.00" y1="300.24" x2="551.00" y2="300.24" stroke="#000" stroke-width="0.9"/>
<line x1="356.40" y1="297.46" x2="358.40" y2="297.46" stroke="#000" stroke-width="0.9"/>
<line x1="553.00" y1="297.46" x2="551.00" y2="297.46" stroke="#000" stroke-width="0.9"/>
<line x1="356.40" y1="294.69" x2="358.40" y2="294.69" stroke="#000" stroke-width="0.9"/>
<line x1="553.00" y1="294.69" x2="551.00" y2="294.69" stroke="#000" stroke-width="0.9"/>
<line x1="356.40" y1="291.91" x2="360.40" y2="291.91" stroke="#000" stroke-width="0.9"/>
<line x1="553.00" y1="291.91" x2="549.00" y2="291.91" stroke="#000" stroke-width="0.9"/>
<line x1="356.40" y1="289.13" x2="358.40" y2="289.13" stroke="#000" stroke-width="0.9"/>
<line x1="553.00" y1="289.13" x2="551.00" y2="289.13" stroke="#000" stroke-width="0.9"/>
<line x1="356.40" y1="286.36" x2="358.40" y2="286.36" stroke="#000" stroke-width="0.9"/>
<line x1="553.00" y1="286.36" x2="551.00" y2="286.36" stroke="#000" stroke-width="0.9"/>
<line x1="356.40" y1="283.58" x2="358.40" y2="283.58" stroke="#000" stroke-width="0.9"/>
<line x1="553.00" y1="283.58" x2="551.00" y2="283.58" stroke="#000" stroke-width="0.9"/>
<line x1="356.40" y1="280.80" x2="358.40" y2="280.80" stroke="#000" stroke-width="0.9"/>
<line x1="553.00" y1="280.80" x2="551.00" y2="280.80" stroke="#000" stroke-width="0.9"/>
<line x1="356.40" y1="278.02" x2="358.40" y2="278.02" stroke="#000" stroke-width="0.9"/>
<line x1="553.00" y1="278.02" x2="551.00" y2="278.02" stroke="#000" stroke-width="0.9"/>
<line x1="356.40" y1="275.25" x2="358.40" y2="275.25" stroke="#000" stroke-width="0.9"/>
<line x1="553.00" y1="275.25" x2="551.00" y2="275.25" stroke="#000" stroke-width="0.9"/>
<line x1="356.40" y1="272.47" x2="358.40" y2="272.47" stroke="#000" stroke-width="0.9"/>
<line x1="553.00" y1="272.47" x2="551.00" y2="272.47" stroke="#000" stroke-width="0.9"/>
<line x1="356.40" y1="269.69" x2="358.40" y2="269.69" stroke="#000" stroke-width="0.9"/>
<line x1="553.00" y1="269.69" x2="551.00" y2="269.69" stroke="#000" stroke-width="0.9"/>
<line x1="356.40" y1="266.92" x2="358.40" y2="266.92" stroke="#000" stroke-width="0.9"/>
<line x1="553.00" y1="266.92" x2="551.00" y2="266.92" stroke="#000" stroke-width="0.9"/>
<line x1="356.40" y1="264.14" x2="360.40" y2="264.14" stroke="#000" stroke-width="0.9"/>
<line x1="553.00" y1="264.14" x2="549.00" y2="264.14" stroke="#000" stroke-width="0.9"/>
<line x1="356.40" y1="261.36" x2="358.40" y2="261.36" stroke="#000" stroke-width="0.9"/>
<line x1="553.00" y1="261.36" x2="551.00" y2="261.36" stroke="#000" stroke-width="0.9"/>
<line x1="356.40" y1="258.59" x2="358.40" y2="258.59" stroke="#000" stroke-width="0.9"/>
<line x1="553.00" y1="258.59" x2="551.00" y2="258.59" stroke="#000" stroke-width="0.9"/>
<line x1="356.40" y1="255.81" x2="358.40" y2="255.81" stroke="#000" stroke-width="0.9"/>
<line x1="553.00" y1="255.81" x2="551.00" y2="255.81" stroke="#000" stroke-width="0.9"/>
<line x1="356.40" y1="253.03" x2="358.40" y2="253.03" stroke="#000" stroke-width="0.9"/>
<line x1="553.00" y1="253.03" x2="551.00" y2="253.03" stroke="#000" stroke-width="0.9"/>
<line x1="356.40" y1="250.25" x2="358.40" y2="250.25" stroke="#000" stroke-width="0.9"/>
<line x1="553.00" y1="250.25" x2="551.00" y2="250.25" stroke="#000" stroke-width="0.9"/>
<line x1="356.40" y1="247.48" x2="358.40" y2="247.48" stroke="#000" stroke-width="0.9"/>
<line x1="553.00" y1="247.48" x2="551.00" y2="247.48" stroke="#000" stroke-width="0.9"/>
<line x1="356.40" y1="244.70" x2="358.40" y2="244.70" stroke="#000" stroke-width="0.9"/>
<line x1="553.00" y1="244.70" x2="551.00" y2="244.70" stroke="#000" stroke-width="0.9"/>
<line x1="356.40" y1="241.92" x2="358.40" y2="241.92" stroke="#000" stroke-width="0.9"/>
<line x1="553.00" y1="241.92" x2="551.00" y2="241.92" stroke="#000" stroke-width="0.9"/>
<line x1="356.40" y1="239.15" x2="358.40" y2="239.15" stroke="#000" stroke-width="0.9"/>
<line x1="553.00" y1="239.15" x2="551.00" y2="239.15" stroke="#000" stroke-width="0.9"/>
<line x1="356.40" y1="236.37" x2="360.40" y2="236.37" stroke="#000" stroke-width="0.9"/>
<line x1="553.00" y1="236.37" x2="549.00" y2="236.37" stroke="#000" stroke-width="0.9"/>
<line x1="356.40" y1="233.59" x2="358.40" y2="233.59" stroke="#000" stroke-width="0.9"/>
<line x1="553.00" y1="233.59" x2="551.00" y2="233.59" stroke="#000" stroke-width="0.9"/>
<line x1="356.40" y1="230.82" x2="358.40" y2="230.82" stroke="#000" stroke-width="0.9"/>
<line x1="553.00" y1="230.82" x2="551.00" y2="230.82" stroke="#000" stroke-width="0.9"/>
<line x1="356.40" y1="228.04" x2="358.40" y2="228.04" stroke="#000" stroke-width="0.9"/>
<line x1="553.00" y1="228.04" x2="551.00" y2="228.04" stroke="#000" stroke-width="0.9"/>
<line x1="356.40" y1="225.26" x2="358.40" y2="225.26" stroke="#000" stroke-width="0.9"/>
<line x1="553.00" y1="225.26" x2="551.00" y2="225.26" stroke="#000" stroke-width="0.9"/>
<line x1="356.40" y1="222.49" x2="358.40" y2="222.49" stroke="#000" stroke-width="0.9"/>
<line x1="553.00" y1="222.49" x2="551.00" y2="222.49" stroke="#000" stroke-width="0.9"/>
<line x1="356.40" y1="219.71" x2="358.40" y2="219.71" stroke="#000" stroke-width="0.9"/>
<line x1="553.00" y1="219.71" x2="551.00" y2="219.71" stroke="#000" stroke-width="0.9"/>
<line x1="356.40" y1="216.93" x2="358.40" y2="216.93" stroke="#000" stroke-width="0.9"/>
<line x1="553.00" y1="216.93" x2="551.00" y2="216.93" stroke="#000" stroke-width="0.9"/>
<line x1="356.40" y1="214.15" x2="358.40" y2="214.15" stroke="#000" stroke-width="0.9"/>
<line x1="553.00" y1="214.15" x2="551.00" y2="214.15" stroke="#000" stroke-width="0.9"/>
<line x1="356.40" y1="211.38" x2="358.40" y2="211.38" stroke="#000" stroke-width="0.9"/>
<line x1="553.00" y1="211.38" x2="551.00" y2="211.38" stroke="#000" stroke-width="0.9"/>
<line x1="356.40" y1="208.60" x2="360.40" y2="208.60" stroke="#000" stroke-width="0.9"/>
<line x1="553.00" y1="208.60" x2="549.00" y2="208.60" stroke="#000" stroke-width="0.9"/>
<rect x="356.40" y="208.60" width="196.60" height="138.85" fill="none" stroke="#000" stroke-width="0.9"/>
</g>
<clipPath id="cTL"><rect x="63.5" y="-1.0" width="199.45" height="141.85"/></clipPath>
<clipPath id="cBL"><rect x="63.5" y="207.1" width="199.45" height="141.85"/></clipPath>
<clipPath id="cTR"><rect x="354.9" y="-1.0" width="199.60000000000002" height="141.85"/></clipPath>
<clipPath id="cBR"><rect x="354.9" y="207.1" width="199.60000000000002" height="141.85"/></clipPath>
<mask id="mTL" maskUnits="userSpaceOnUse" x="0" y="0" width="555" height="383"><rect width="555" height="383" fill="#fff"/><path d="M67.40,42.80 L69.79,42.80 L69.79,24.40 L74.58,24.40 L74.58,12.50 L79.37,12.50 L79.37,7.10 L84.17,7.10 L84.17,11.70 L88.96,11.70 L88.96,20.30 L93.75,20.30 L93.75,28.80 L98.54,28.80 L98.54,32.50 L103.33,32.50 L103.33,36.80 L108.12,36.80 L108.12,42.10 L112.91,42.10 L112.91,45.60 L117.71,45.60 L117.71,50.70 L122.50,50.70 L122.50,54.30 L127.29,54.30 L127.29,58.50 L132.08,58.50 L132.08,61.90 L136.87,61.90 L136.87,65.80 L141.66,65.80 L141.66,68.60 L146.45,68.60 L146.45,70.30 L151.25,70.30 L151.25,75.10 L156.04,75.10 L156.04,78.70 L160.83,78.70 L160.83,81.70 L165.62,81.70 L165.62,84.50 L170.41,84.50 L170.41,86.60 L175.20,86.60 L175.20,89.80 L180.00,89.80 L180.00,92.60 L184.79,92.60 L184.79,94.90 L189.58,94.90 L189.58,98.10 L194.37,98.10 L194.37,98.10 L199.16,98.10 L199.16,105.40 L203.95,105.40 L203.95,105.40 L208.74,105.40 L208.74,108.40 L213.54,108.40 L213.54,108.40 L218.33,108.40 L218.33,111.60 L223.12,111.60 L223.12,115.40 L227.91,115.40 L227.91,115.40 L232.70,115.40 L232.70,120.30 L237.49,120.30 L237.49,120.30 L242.28,120.30 L242.28,127.30 L247.08,127.30 L247.08,127.30 L251.87,127.30 L251.87,127.30 L256.66,127.30 L256.66,127.30 L261.45,127.30 L261.45,139.35" fill="none" stroke="#000" stroke-width="1.5" stroke-linejoin="miter"/></mask>
<g clip-path="url(#cTL)"><path d="M67.40,27.50 L69.79,27.50 L69.79,9.90 L74.58,9.90 L74.58,10.40 L79.37,10.40 L79.37,14.10 L84.17,14.10 L84.17,18.90 L88.96,18.90 L88.96,24.10 L93.75,24.10 L93.75,28.80 L98.54,28.80 L98.54,33.60 L103.33,33.60 L103.33,38.20 L108.12,38.20 L108.12,42.90 L112.91,42.90 L112.91,46.50 L117.71,46.50 L117.71,51.20 L122.50,51.20 L122.50,55.00 L127.29,55.00 L127.29,59.10 L132.08,59.10 L132.08,62.40 L136.87,62.40 L136.87,66.30 L141.66,66.30 L141.66,69.10 L146.45,69.10 L146.45,71.90 L151.25,71.90 L151.25,75.10 L156.04,75.10 L156.04,77.60 L160.83,77.60 L160.83,80.20 L165.62,80.20 L165.62,83.20 L170.41,83.20 L170.41,86.00 L175.20,86.00 L175.20,89.80 L180.00,89.80 L180.00,92.60 L184.79,92.60 L184.79,94.90 L189.58,94.90 L189.58,98.10 L194.37,98.10 L194.37,99.40 L199.16,99.40 L199.16,104.00 L203.95,104.00 L203.95,105.40 L208.74,105.40 L208.74,108.40 L213.54,108.40 L213.54,108.40 L218.33,108.40 L218.33,111.60 L223.12,111.60 L223.12,115.40 L227.91,115.40 L227.91,115.40 L232.70,115.40 L232.70,120.30 L237.49,120.30 L237.49,120.30 L242.28,120.30 L242.28,127.30 L247.08,127.30 L247.08,127.30 L251.87,127.30 L251.87,127.30 L256.66,127.30 L256.66,127.30 L261.45,127.30 L261.45,139.35" fill="none" stroke="#000" stroke-width="1.4" stroke-linejoin="miter" mask="url(#mTL)"/>
<path d="M67.40,42.80 L69.79,42.80 L69.79,24.40 L74.58,24.40 L74.58,12.50 L79.37,12.50 L79.37,7.10 L84.17,7.10 L84.17,11.70 L88.96,11.70 L88.96,20.30 L93.75,20.30 L93.75,28.80 L98.54,28.80 L98.54,32.50 L103.33,32.50 L103.33,36.80 L108.12,36.80 L108.12,42.10 L112.91,42.10 L112.91,45.60 L117.71,45.60 L117.71,50.70 L122.50,50.70 L122.50,54.30 L127.29,54.30 L127.29,58.50 L132.08,58.50 L132.08,61.90 L136.87,61.90 L136.87,65.80 L141.66,65.80 L141.66,68.60 L146.45,68.60 L146.45,70.30 L151.25,70.30 L151.25,75.10 L156.04,75.10 L156.04,78.70 L160.83,78.70 L160.83,81.70 L165.62,81.70 L165.62,84.50 L170.41,84.50 L170.41,86.60 L175.20,86.60 L175.20,89.80 L180.00,89.80 L180.00,92.60 L184.79,92.60 L184.79,94.90 L189.58,94.90 L189.58,98.10 L194.37,98.10 L194.37,98.10 L199.16,98.10 L199.16,105.40 L203.95,105.40 L203.95,105.40 L208.74,105.40 L208.74,108.40 L213.54,108.40 L213.54,108.40 L218.33,108.40 L218.33,111.60 L223.12,111.60 L223.12,115.40 L227.91,115.40 L227.91,115.40 L232.70,115.40 L232.70,120.30 L237.49,120.30 L237.49,120.30 L242.28,120.30 L242.28,127.30 L247.08,127.30 L247.08,127.30 L251.87,127.30 L251.87,127.30 L256.66,127.30 L256.66,127.30 L261.45,127.30 L261.45,139.35" fill="none" stroke="#ee0000" stroke-width="1.5" stroke-linejoin="miter"/></g>
<mask id="mBL" maskUnits="userSpaceOnUse" x="0" y="0" width="555" height="383"><rect width="555" height="383" fill="#fff"/><path d="M67.40,296.40 L69.79,296.40 L69.79,243.30 L74.58,243.30 L74.58,231.50 L79.37,231.50 L79.37,221.60 L84.17,221.60 L84.17,223.70 L88.96,223.70 L88.96,230.80 L93.75,230.80 L93.75,237.80 L98.54,237.80 L98.54,240.80 L103.33,240.80 L103.33,244.90 L108.12,244.90 L108.12,250.70 L112.91,250.70 L112.91,253.50 L117.71,253.50 L117.71,259.20 L122.50,259.20 L122.50,261.90 L127.29,261.90 L127.29,266.30 L132.08,266.30 L132.08,269.20 L136.87,269.20 L136.87,273.90 L141.66,273.90 L141.66,276.70 L146.45,276.70 L146.45,278.40 L151.25,278.40 L151.25,283.20 L156.04,283.20 L156.04,286.80 L160.83,286.80 L160.83,289.80 L165.62,289.80 L165.62,292.60 L170.41,292.60 L170.41,294.70 L175.20,294.70 L175.20,297.90 L180.00,297.90 L180.00,300.70 L184.79,300.70 L184.79,303.00 L189.58,303.00 L189.58,306.20 L194.37,306.20 L194.37,306.20 L199.16,306.20 L199.16,313.50 L203.95,313.50 L203.95,313.50 L208.74,313.50 L208.74,316.50 L213.54,316.50 L213.54,316.50 L218.33,316.50 L218.33,319.70 L223.12,319.70 L223.12,323.50 L227.91,323.50 L227.91,323.50 L232.70,323.50 L232.70,328.40 L237.49,328.40 L237.49,328.40 L242.28,328.40 L242.28,335.40 L247.08,335.40 L247.08,335.40 L251.87,335.40 L251.87,335.40 L256.66,335.40 L256.66,335.40 L261.45,335.40 L261.45,347.45" fill="none" stroke="#000" stroke-width="1.5" stroke-linejoin="miter"/></mask>
<g clip-path="url(#cBL)"><path d="M67.40,310.00 L69.79,310.00 L69.79,228.90 L74.58,228.90 L74.58,224.70 L79.37,224.70 L79.37,226.30 L84.17,226.30 L84.17,229.40 L88.96,229.40 L88.96,234.10 L93.75,234.10 L93.75,238.30 L98.54,238.30 L98.54,242.50 L103.33,242.50 L103.33,246.30 L108.12,246.30 L108.12,250.70 L112.91,250.70 L112.91,254.30 L117.71,254.30 L117.71,258.20 L122.50,258.20 L122.50,262.00 L127.29,262.00 L127.29,265.40 L132.08,265.40 L132.08,269.20 L136.87,269.20 L136.87,273.90 L141.66,273.90 L141.66,276.70 L146.45,276.70 L146.45,280.00 L151.25,280.00 L151.25,283.20 L156.04,283.20 L156.04,285.70 L160.83,285.70 L160.83,288.30 L165.62,288.30 L165.62,291.30 L170.41,291.30 L170.41,294.10 L175.20,294.10 L175.20,297.90 L180.00,297.90 L180.00,300.70 L184.79,300.70 L184.79,303.00 L189.58,303.00 L189.58,306.20 L194.37,306.20 L194.37,307.50 L199.16,307.50 L199.16,312.10 L203.95,312.10 L203.95,313.50 L208.74,313.50 L208.74,316.50 L213.54,316.50 L213.54,316.50 L218.33,316.50 L218.33,319.70 L223.12,319.70 L223.12,323.50 L227.91,323.50 L227.91,323.50 L232.70,323.50 L232.70,328.40 L237.49,328.40 L237.49,328.40 L242.28,328.40 L242.28,335.40 L247.08,335.40 L247.08,335.40 L251.87,335.40 L251.87,335.40 L256.66,335.40 L256.66,335.40 L261.45,335.40 L261.45,347.45" fill="none" stroke="#000" stroke-width="1.4" stroke-linejoin="miter" mask="url(#mBL)"/>
<path d="M67.40,296.40 L69.79,296.40 L69.79,243.30 L74.58,243.30 L74.58,231.50 L79.37,231.50 L79.37,221.60 L84.17,221.60 L84.17,223.70 L88.96,223.70 L88.96,230.80 L93.75,230.80 L93.75,237.80 L98.54,237.80 L98.54,240.80 L103.33,240.80 L103.33,244.90 L108.12,244.90 L108.12,250.70 L112.91,250.70 L112.91,253.50 L117.71,253.50 L117.71,259.20 L122.50,259.20 L122.50,261.90 L127.29,261.90 L127.29,266.30 L132.08,266.30 L132.08,269.20 L136.87,269.20 L136.87,273.90 L141.66,273.90 L141.66,276.70 L146.45,276.70 L146.45,278.40 L151.25,278.40 L151.25,283.20 L156.04,283.20 L156.04,286.80 L160.83,286.80 L160.83,289.80 L165.62,289.80 L165.62,292.60 L170.41,292.60 L170.41,294.70 L175.20,294.70 L175.20,297.90 L180.00,297.90 L180.00,300.70 L184.79,300.70 L184.79,303.00 L189.58,303.00 L189.58,306.20 L194.37,306.20 L194.37,306.20 L199.16,306.20 L199.16,313.50 L203.95,313.50 L203.95,313.50 L208.74,313.50 L208.74,316.50 L213.54,316.50 L213.54,316.50 L218.33,316.50 L218.33,319.70 L223.12,319.70 L223.12,323.50 L227.91,323.50 L227.91,323.50 L232.70,323.50 L232.70,328.40 L237.49,328.40 L237.49,328.40 L242.28,328.40 L242.28,335.40 L247.08,335.40 L247.08,335.40 L251.87,335.40 L251.87,335.40 L256.66,335.40 L256.66,335.40 L261.45,335.40 L261.45,347.45" fill="none" stroke="#ee0000" stroke-width="1.5" stroke-linejoin="miter"/></g>
<mask id="mTR" maskUnits="userSpaceOnUse" x="0" y="0" width="555" height="383"><rect width="555" height="383" fill="#fff"/><path d="M356.40,138.80 L359.13,138.80 L359.13,137.50 L364.59,137.50 L364.59,132.60 L370.05,132.60 L370.05,126.00 L375.51,126.00 L375.51,115.50 L380.97,115.50 L380.97,109.50 L386.44,109.50 L386.44,96.50 L391.90,96.50 L391.90,91.50 L397.36,91.50 L397.36,76.80 L402.82,76.80 L402.82,72.30 L408.28,72.30 L408.28,61.10 L413.74,61.10 L413.74,43.40 L419.20,43.40 L419.20,45.50 L424.66,45.50 L424.66,27.40 L430.12,27.40 L430.12,21.60 L435.59,21.60 L435.59,35.50 L441.05,35.50 L441.05,17.20 L446.51,17.20 L446.51,1.30 L451.97,1.30 L451.97,5.20 L457.43,5.20 L457.43,11.00 L462.89,11.00 L462.89,34.20 L468.35,34.20 L468.35,26.20 L473.81,26.20 L473.81,39.30 L479.27,39.30 L479.27,35.50 L484.74,35.50 L484.74,48.20 L490.20,48.20 L490.20,54.80 L495.66,54.80 L495.66,71.40 L501.12,71.40 L501.12,68.80 L506.58,68.80 L506.58,89.30 L512.04,89.30 L512.04,97.50 L517.50,97.50 L517.50,115.60 L522.96,115.60 L522.96,120.80 L528.42,120.80 L528.42,127.10 L533.89,127.10 L533.89,132.80 L539.35,132.80 L539.35,136.30 L544.81,136.30 L544.81,138.50 L547.54,138.50" fill="none" stroke="#000" stroke-width="1.5" stroke-linejoin="miter"/></mask>
<g clip-path="url(#cTR)"><path d="M356.40,135.50 L359.13,135.50 L359.13,126.30 L364.59,126.30 L364.59,117.80 L370.05,117.80 L370.05,109.60 L375.51,109.60 L375.51,100.90 L380.97,100.90 L380.97,93.00 L386.44,93.00 L386.44,85.70 L391.90,85.70 L391.90,78.10 L397.36,78.10 L397.36,71.60 L402.82,71.60 L402.82,65.50 L408.28,65.50 L408.28,60.30 L413.74,60.30 L413.74,54.20 L419.20,54.20 L419.20,49.30 L424.66,49.30 L424.66,46.20 L430.12,46.20 L430.12,42.60 L435.59,42.60 L435.59,40.50 L441.05,40.50 L441.05,39.10 L446.51,39.10 L446.51,38.10 L451.97,38.10 L451.97,38.10 L457.43,38.10 L457.43,39.10 L462.89,39.10 L462.89,40.70 L468.35,40.70 L468.35,42.50 L473.81,42.50 L473.81,45.50 L479.27,45.50 L479.27,49.20 L484.74,49.20 L484.74,53.90 L490.20,53.90 L490.20,59.20 L495.66,59.20 L495.66,65.70 L501.12,65.70 L501.12,71.40 L506.58,71.40 L506.58,78.00 L512.04,78.00 L512.04,85.00 L517.50,85.00 L517.50,93.10 L522.96,93.10 L522.96,100.90 L528.42,100.90 L528.42,109.50 L533.89,109.50 L533.89,117.70 L539.35,117.70 L539.35,127.10 L544.81,127.10 L544.81,135.60 L547.54,135.60" fill="none" stroke="#000" stroke-width="1.4" stroke-linejoin="miter" mask="url(#mTR)"/>
<path d="M356.40,138.80 L359.13,138.80 L359.13,137.50 L364.59,137.50 L364.59,132.60 L370.05,132.60 L370.05,126.00 L375.51,126.00 L375.51,115.50 L380.97,115.50 L380.97,109.50 L386.44,109.50 L386.44,96.50 L391.90,96.50 L391.90,91.50 L397.36,91.50 L397.36,76.80 L402.82,76.80 L402.82,72.30 L408.28,72.30 L408.28,61.10 L413.74,61.10 L413.74,43.40 L419.20,43.40 L419.20,45.50 L424.66,45.50 L424.66,27.40 L430.12,27.40 L430.12,21.60 L435.59,21.60 L435.59,35.50 L441.05,35.50 L441.05,17.20 L446.51,17.20 L446.51,1.30 L451.97,1.30 L451.97,5.20 L457.43,5.20 L457.43,11.00 L462.89,11.00 L462.89,34.20 L468.35,34.20 L468.35,26.20 L473.81,26.20 L473.81,39.30 L479.27,39.30 L479.27,35.50 L484.74,35.50 L484.74,48.20 L490.20,48.20 L490.20,54.80 L495.66,54.80 L495.66,71.40 L501.12,71.40 L501.12,68.80 L506.58,68.80 L506.58,89.30 L512.04,89.30 L512.04,97.50 L517.50,97.50 L517.50,115.60 L522.96,115.60 L522.96,120.80 L528.42,120.80 L528.42,127.10 L533.89,127.10 L533.89,132.80 L539.35,132.80 L539.35,136.30 L544.81,136.30 L544.81,138.50 L547.54,138.50" fill="none" stroke="#ee0000" stroke-width="1.5" stroke-linejoin="miter"/></g>
<mask id="mBR" maskUnits="userSpaceOnUse" x="0" y="0" width="555" height="383"><rect width="555" height="383" fill="#fff"/><path d="M356.40,346.50 L359.13,346.50 L359.13,344.80 L364.59,344.80 L364.59,339.40 L370.05,339.40 L370.05,331.60 L375.51,331.60 L375.51,318.50 L380.97,318.50 L380.97,312.90 L386.44,312.90 L386.44,296.80 L391.90,296.80 L391.90,292.00 L397.36,292.00 L397.36,273.50 L402.82,273.50 L402.82,270.80 L408.28,270.80 L408.28,256.00 L413.74,256.00 L413.74,237.40 L419.20,237.40 L419.20,242.90 L424.66,242.90 L424.66,228.80 L430.12,228.80 L430.12,224.70 L435.59,224.70 L435.59,268.00 L441.05,268.00 L441.05,301.60 L446.51,301.60 L446.51,324.80 L451.97,324.80 L451.97,323.70 L457.43,323.70 L457.43,301.00 L462.89,301.00 L462.89,263.90 L468.35,263.90 L468.35,235.40 L473.81,235.40 L473.81,240.10 L479.27,240.10 L479.27,230.70 L484.74,230.70 L484.74,241.60 L490.20,241.60 L490.20,249.50 L495.66,249.50 L495.66,268.90 L501.12,268.90 L501.12,266.80 L506.58,266.80 L506.58,287.90 L512.04,287.90 L512.04,297.70 L517.50,297.70 L517.50,319.50 L522.96,319.50 L522.96,325.70 L528.42,325.70 L528.42,332.30 L533.89,332.30 L533.89,339.80 L539.35,339.80 L539.35,344.50 L544.81,344.50 L544.81,346.40 L547.54,346.40" fill="none" stroke="#000" stroke-width="1.5" stroke-linejoin="miter"/></mask>
<g clip-path="url(#cBR)"><path d="M356.40,342.30 L359.13,342.30 L359.13,332.40 L364.59,332.40 L364.59,321.70 L370.05,321.70 L370.05,314.40 L375.51,314.40 L375.51,304.60 L380.97,304.60 L380.97,294.80 L386.44,294.80 L386.44,285.40 L391.90,285.40 L391.90,278.50 L397.36,278.50 L397.36,270.50 L402.82,270.50 L402.82,263.60 L408.28,263.60 L408.28,257.30 L413.74,257.30 L413.74,256.00 L419.20,256.00 L419.20,254.50 L424.66,254.50 L424.66,256.00 L430.12,256.00 L430.12,261.70 L435.59,261.70 L435.59,284.50 L441.05,284.50 L441.05,307.20 L446.51,307.20 L446.51,323.70 L451.97,323.70 L451.97,322.90 L457.43,322.90 L457.43,307.20 L462.89,307.20 L462.89,281.30 L468.35,281.30 L468.35,265.50 L473.81,265.50 L473.81,262.40 L479.27,262.40 L479.27,259.20 L484.74,259.20 L484.74,253.90 L490.20,253.90 L490.20,256.50 L495.66,256.50 L495.66,261.80 L501.12,261.80 L501.12,270.80 L506.58,270.80 L506.58,276.90 L512.04,276.90 L512.04,287.60 L517.50,287.60 L517.50,293.10 L522.96,293.10 L522.96,304.60 L528.42,304.60 L528.42,313.10 L533.89,313.10 L533.89,322.90 L539.35,322.90 L539.35,333.10 L544.81,333.10 L544.81,343.30 L547.54,343.30" fill="none" stroke="#000" stroke-width="1.4" stroke-linejoin="miter" mask="url(#mBR)"/>
<path d="M356.40,346.50 L359.13,346.50 L359.13,344.80 L364.59,344.80 L364.59,339.40 L370.05,339.40 L370.05,331.60 L375.51,331.60 L375.51,318.50 L380.97,318.50 L380.97,312.90 L386.44,312.90 L386.44,296.80 L391.90,296.80 L391.90,292.00 L397.36,292.00 L397.36,273.50 L402.82,273.50 L402.82,270.80 L408.28,270.80 L408.28,256.00 L413.74,256.00 L413.74,237.40 L419.20,237.40 L419.20,242.90 L424.66,242.90 L424.66,228.80 L430.12,228.80 L430.12,224.70 L435.59,224.70 L435.59,268.00 L441.05,268.00 L441.05,301.60 L446.51,301.60 L446.51,324.80 L451.97,324.80 L451.97,323.70 L457.43,323.70 L457.43,301.00 L462.89,301.00 L462.89,263.90 L468.35,263.90 L468.35,235.40 L473.81,235.40 L473.81,240.10 L479.27,240.10 L479.27,230.70 L484.74,230.70 L484.74,241.60 L490.20,241.60 L490.20,249.50 L495.66,249.50 L495.66,268.90 L501.12,268.90 L501.12,266.80 L506.58,266.80 L506.58,287.90 L512.04,287.90 L512.04,297.70 L517.50,297.70 L517.50,319.50 L522.96,319.50 L522.96,325.70 L528.42,325.70 L528.42,332.30 L533.89,332.30 L533.89,339.80 L539.35,339.80 L539.35,344.50 L544.81,344.50 L544.81,346.40 L547.54,346.40" fill="none" stroke="#ee0000" stroke-width="1.5" stroke-linejoin="miter"/></g>
<g font-family="Liberation Serif" fill="#111" stroke="#111" stroke-width="0.2">
<text x="19.12" y="24.10" font-size="12.6" textLength="41.76" lengthAdjust="spacingAndGlyphs">0.1000</text>
<text x="19.12" y="64.60" font-size="12.6" textLength="41.76" lengthAdjust="spacingAndGlyphs">0.0100</text>
<text x="19.12" y="104.40" font-size="12.6" textLength="41.76" lengthAdjust="spacingAndGlyphs">0.0010</text>
<text x="19.12" y="139.40" font-size="12.6" textLength="41.76" lengthAdjust="spacingAndGlyphs">0.0001</text>
<text x="61.27" y="156.90" font-size="12.6" textLength="7.45" lengthAdjust="spacingAndGlyphs">0</text>
<text x="101.74" y="156.90" font-size="12.6" textLength="22.35" lengthAdjust="spacingAndGlyphs">100</text>
<text x="149.65" y="156.90" font-size="12.6" textLength="22.35" lengthAdjust="spacingAndGlyphs">200</text>
<text x="197.57" y="156.90" font-size="12.6" textLength="22.35" lengthAdjust="spacingAndGlyphs">300</text>
<text x="245.48" y="156.90" font-size="12.6" textLength="22.35" lengthAdjust="spacingAndGlyphs">400</text>
<text x="352.75" y="156.90" font-size="12.6" textLength="7.30" lengthAdjust="spacingAndGlyphs">0</text>
<text x="403.71" y="156.90" font-size="12.6" textLength="14.60" lengthAdjust="spacingAndGlyphs">50</text>
<text x="454.67" y="156.90" font-size="12.6" textLength="21.90" lengthAdjust="spacingAndGlyphs">100</text>
<text x="509.28" y="156.90" font-size="12.6" textLength="21.90" lengthAdjust="spacingAndGlyphs">150</text>
<text x="146.78" y="172.00" font-size="12.9" textLength="7.47" lengthAdjust="spacingAndGlyphs">B</text>
<text x="164.76" y="172.00" font-size="12.9" textLength="9.56" lengthAdjust="spacingAndGlyphs">G</text>
<text x="161.00" y="172.60" font-size="15" textLength="4.04" lengthAdjust="spacingAndGlyphs">[</text>
<text x="175.36" y="172.60" font-size="15" textLength="4.04" lengthAdjust="spacingAndGlyphs">]</text>
<text x="416.92" y="172.00" font-size="13.2" font-style="italic" textLength="6.04" lengthAdjust="spacingAndGlyphs">&#947;</text>
<text x="436.51" y="171.90" font-size="12.9" textLength="49.78" lengthAdjust="spacingAndGlyphs">degrees</text>
<text x="431.60" y="172.60" font-size="15" textLength="4.04" lengthAdjust="spacingAndGlyphs">[</text>
<text x="487.23" y="172.60" font-size="15" textLength="4.34" lengthAdjust="spacingAndGlyphs">]</text>
<text transform="translate(8.80,106.36) rotate(-90)" x="0" y="0" font-size="13" textLength="71.12" lengthAdjust="spacingAndGlyphs">Probability</text>
<text transform="translate(315.40,106.36) rotate(-90)" x="0" y="0" font-size="13" textLength="71.33" lengthAdjust="spacingAndGlyphs">Probability</text>
<text x="19.12" y="232.20" font-size="12.6" textLength="41.76" lengthAdjust="spacingAndGlyphs">0.1000</text>
<text x="19.12" y="272.70" font-size="12.6" textLength="41.76" lengthAdjust="spacingAndGlyphs">0.0100</text>
<text x="19.12" y="312.50" font-size="12.6" textLength="41.76" lengthAdjust="spacingAndGlyphs">0.0010</text>
<text x="19.12" y="347.50" font-size="12.6" textLength="41.76" lengthAdjust="spacingAndGlyphs">0.0001</text>
<text x="61.27" y="365.00" font-size="12.6" textLength="7.45" lengthAdjust="spacingAndGlyphs">0</text>
<text x="101.74" y="365.00" font-size="12.6" textLength="22.35" lengthAdjust="spacingAndGlyphs">100</text>
<text x="149.65" y="365.00" font-size="12.6" textLength="22.35" lengthAdjust="spacingAndGlyphs">200</text>
<text x="197.57" y="365.00" font-size="12.6" textLength="22.35" lengthAdjust="spacingAndGlyphs">300</text>
<text x="245.48" y="365.00" font-size="12.6" textLength="22.35" lengthAdjust="spacingAndGlyphs">400</text>
<text x="352.75" y="365.00" font-size="12.6" textLength="7.30" lengthAdjust="spacingAndGlyphs">0</text>
<text x="403.71" y="365.00" font-size="12.6" textLength="14.60" lengthAdjust="spacingAndGlyphs">50</text>
<text x="454.67" y="365.00" font-size="12.6" textLength="21.90" lengthAdjust="spacingAndGlyphs">100</text>
<text x="509.28" y="365.00" font-size="12.6" textLength="21.90" lengthAdjust="spacingAndGlyphs">150</text>
<text x="146.78" y="380.10" font-size="12.9" textLength="7.47" lengthAdjust="spacingAndGlyphs">B</text>
<text x="164.76" y="380.10" font-size="12.9" textLength="9.56" lengthAdjust="spacingAndGlyphs">G</text>
<text x="161.00" y="380.70" font-size="15" textLength="4.04" lengthAdjust="spacingAndGlyphs">[</text>
<text x="175.36" y="380.70" font-size="15" textLength="4.04" lengthAdjust="spacingAndGlyphs">]</text>
<text x="416.92" y="380.10" font-size="13.2" font-style="italic" textLength="6.04" lengthAdjust="spacingAndGlyphs">&#947;</text>
<text x="436.51" y="380.00" font-size="12.9" textLength="49.78" lengthAdjust="spacingAndGlyphs">degrees</text>
<text x="431.60" y="380.70" font-size="15" textLength="4.04" lengthAdjust="spacingAndGlyphs">[</text>
<text x="487.23" y="380.70" font-size="15" textLength="4.34" lengthAdjust="spacingAndGlyphs">]</text>
<text transform="translate(8.80,314.46) rotate(-90)" x="0" y="0" font-size="13" textLength="71.12" lengthAdjust="spacingAndGlyphs">Probability</text>
<text transform="translate(315.40,314.46) rotate(-90)" x="0" y="0" font-size="13" textLength="71.33" lengthAdjust="spacingAndGlyphs">Probability</text>
<text x="325.72" y="8.90" font-size="12.6" textLength="26.63" lengthAdjust="spacingAndGlyphs">0.06</text>
<text x="325.72" y="51.50" font-size="12.6" textLength="26.63" lengthAdjust="spacingAndGlyphs">0.04</text>
<text x="325.72" y="97.80" font-size="12.6" textLength="26.63" lengthAdjust="spacingAndGlyphs">0.02</text>
<text x="325.72" y="139.60" font-size="12.6" textLength="26.63" lengthAdjust="spacingAndGlyphs">0.00</text>
<text x="325.72" y="216.80" font-size="12.6" textLength="26.63" lengthAdjust="spacingAndGlyphs">0.05</text>
<text x="325.72" y="240.80" font-size="12.6" textLength="26.63" lengthAdjust="spacingAndGlyphs">0.04</text>
<text x="325.72" y="268.30" font-size="12.6" textLength="26.63" lengthAdjust="spacingAndGlyphs">0.03</text>
<text x="325.72" y="296.60" font-size="12.6" textLength="26.63" lengthAdjust="spacingAndGlyphs">0.02</text>
<text x="325.72" y="324.40" font-size="12.6" textLength="26.63" lengthAdjust="spacingAndGlyphs">0.01</text>
<text x="325.72" y="347.70" font-size="12.6" textLength="26.63" lengthAdjust="spacingAndGlyphs">0.00</text>
</g>
</svg>
</body></html>
